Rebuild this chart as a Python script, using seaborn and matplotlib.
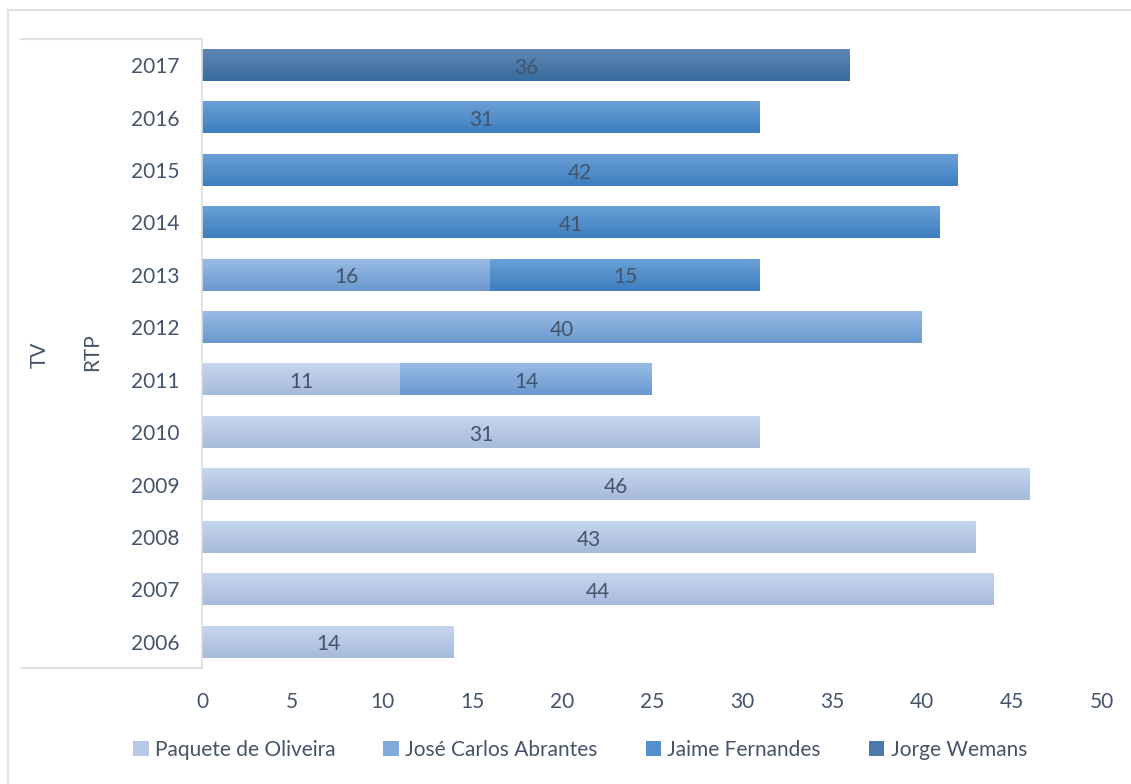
import numpy as np
import pandas as pd
import matplotlib.pyplot as plt
import seaborn as sns
from matplotlib.patches import Patch
from matplotlib.lines import Line2D
from matplotlib.colors import to_rgb

# data (top to bottom as shown)
years = ['2017', '2016', '2015', '2014', '2013', '2012',
         '2011', '2010', '2009', '2008', '2007', '2006']
presenters = ['Paquete de Oliveira', 'José Carlos Abrantes', 'Jaime Fernandes', 'Jorge Wemans']
paquete = [0, 0, 0, 0, 0, 0, 11, 31, 46, 43, 44, 14]
jose = [0, 0, 0, 0, 16, 40, 14, 0, 0, 0, 0, 0]
jaime = [0, 31, 42, 41, 15, 0, 0, 0, 0, 0, 0, 0]
jorge = [36, 0, 0, 0, 0, 0, 0, 0, 0, 0, 0, 0]
series = [paquete, jose, jaime, jorge]

# gradient colours (top, bottom) per series
grad = [('#c6d6ee', '#a6badb'),
        ('#98bbe5', '#6a99cf'),
        ('#6aa0d6', '#3d7ec0'),
        ('#5e88b5', '#376a9e')]
txt = '#44546a'
fs = 15

sns.set_theme(style='white')
plt.rcParams['font.family'] = ['Lato', 'DejaVu Sans']

fig = plt.figure(figsize=(11.31, 7.84), dpi=100)
ax = fig.add_axes([202/1131, 1-668/784, 900/1131, 629/784])

df = pd.DataFrame({'year': years})
lefts = np.zeros(len(years))
for name, vals, (c_top, c_bot) in zip(presenters, series, grad):
    df[name] = vals
    cum = lefts + np.array(vals)
    df['cum'] = cum
    n0 = len(ax.patches)
    sns.barplot(data=df, x='cum', y='year', order=years, color=c_bot,
                width=0.6, ax=ax, saturation=1, zorder=1)
    new = ax.patches[n0:]
    g = np.linspace(0, 1, 64)[:, None, None]
    img = (1 - g) * np.array(to_rgb(c_top)) + g * np.array(to_rgb(c_bot))
    for p, l, v in zip(new, lefts, vals):
        p.set_visible(False)
        if v <= 0:
            continue
        y0, h = p.get_y(), p.get_height()
        ax.imshow(img, extent=(l, l + v, y0 + h, y0), aspect='auto',
                  interpolation='bilinear', zorder=2)
        ax.text(l + v / 2, y0 + h / 2 + 0.05, str(v), ha='center', va='center',
                fontsize=fs, color=txt, zorder=3)
    lefts = cum

ax.set_xlim(0, 50)
ax.set_ylim(len(years) - 0.5, -0.5)
ax.set_xticks(range(0, 51, 5))
ax.set_xlabel('')
ax.set_ylabel('')
ax.tick_params(axis='x', length=0, pad=17, labelsize=fs, labelcolor=txt)
ax.tick_params(axis='y', length=0, pad=16, labelsize=fs, labelcolor=txt)
for s in ['top', 'right', 'bottom']:
    ax.spines[s].set_visible(False)
ax.spines['left'].set_color('#d9dde3')
ax.spines['left'].set_linewidth(1.2)

# multi-level category labels
fig.text(40/1131, 1-355/784, 'TV', rotation=90, ha='center', va='center',
         fontsize=fs, color=txt)
fig.text(92/1131, 1-352/784, 'RTP', rotation=90, ha='center', va='center',
         fontsize=fs, color=txt)

lc = '#dde1e8'
def fline(x0, y0, x1, y1):
    fig.add_artist(Line2D([x0/1131, x1/1131], [1-y0/784, 1-y1/784],
                          color=lc, lw=1.5, transform=fig.transFigure))
fline(8, 10, 1131, 10)
fline(8, 10, 8, 784)
fline(21, 39, 202, 39)
fline(21, 668, 202, 668)

handles = [Patch(facecolor=((np.array(to_rgb(a)) + np.array(to_rgb(b))) / 2), edgecolor='none')
           for a, b in grad]
fig.legend(handles, presenters, loc='center', bbox_to_anchor=(580/1131, 1-750/784),
           ncol=4, frameon=False, fontsize=fs, handlelength=0.75, handleheight=0.75,
           handletextpad=0.3, columnspacing=2.3, labelcolor=txt)

fig.savefig('out.png', dpi=100)
